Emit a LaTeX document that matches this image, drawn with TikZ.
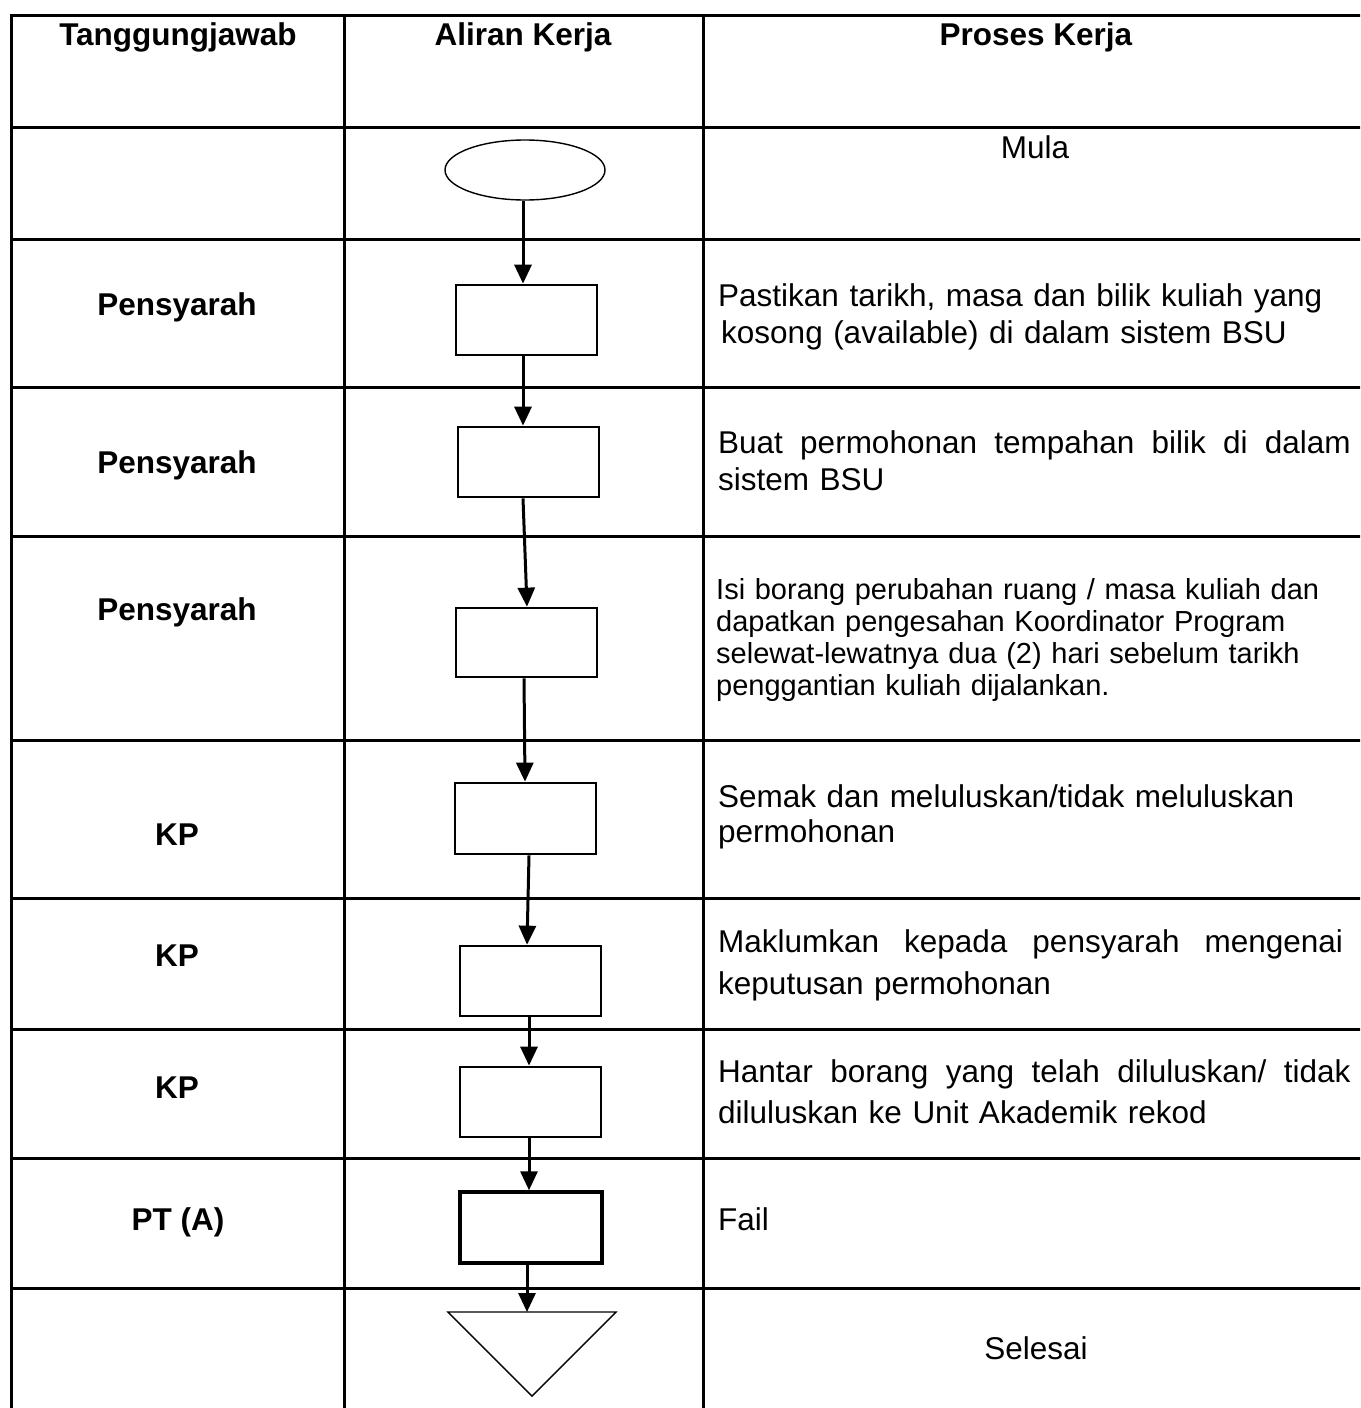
\documentclass[tikz,border=0pt]{standalone}
\usepackage{fontspec}
\setmainfont{Liberation Sans}
\usetikzlibrary{arrows.meta,shapes.geometric}
\newcommand\jline[1]{\makebox[641pt][l]{\spaceskip=0.278em plus 1fil\relax #1}}
\begin{document}
\begin{tikzpicture}[x=1pt,y=-1pt,
  tline/.style={line width=3pt},
  fbox/.style={draw,line width=2.7pt,minimum width=141pt,minimum height=70pt,inner sep=0pt},
  arr/.style={line width=3pt,-{Triangle[length=19pt,width=17pt]}},
  thin/.style={draw,line width=1.4pt},
  hdr/.style={font=\fontsize{31.5}{36}\selectfont\bfseries,anchor=base,inner sep=0pt},
  body/.style={anchor=base west,inner sep=0pt,text width=650pt,align=left},
  fs/.style={font=\fontsize{31.5}{#1}\selectfont},
]
\useasboundingbox (0,0) rectangle (1360,1408);
\clip (0,0) rectangle (1360,1408);
% table
\draw[tline,line join=miter] (1372,15) -- (11,15) -- (11,1420);
\draw[tline] (344,15) -- (344,1420);
\draw[tline] (703,15) -- (703,1420);
\foreach \y in {127,239,387,536,740,898,1029,1158,1288}
  \draw[tline] (11,\y) -- (1372,\y);
% headers
\node[hdr] (h1) at (178,45) {Tanggungjawab};
\node[hdr] (h2) at (523,45) {Aliran Kerja};
\node[hdr] (h3) at (1036,45) {Proses Kerja};
% responsibility column
\node[hdr] (r1) at (177,315) {Pensyarah};
\node[hdr] (r2) at (177,473) {Pensyarah};
\node[hdr] (r3) at (177,620) {Pensyarah};
\node[hdr] (r4) at (177,845) {KP};
\node[hdr] (r5) at (177,966) {KP};
\node[hdr] (r6) at (177,1098) {KP};
\node[hdr] (r7) at (178,1230) {PT (A)};
% flow shapes
\node[thin,ellipse,minimum width=160pt,minimum height=60pt,inner sep=0pt] (e0) at (525,170) {};
\node[fbox] (b1) at (526.5,320) {};
\node[fbox] (b2) at (528.5,462) {};
\node[fbox,minimum height=69pt] (b3) at (526.5,642.5) {};
\node[fbox,minimum height=71pt] (b4) at (525.5,818.5) {};
\node[fbox] (b5) at (530.5,981) {};
\node[fbox] (b6) at (530.5,1102) {};
\node[fbox,line width=3.4pt,minimum width=142pt,minimum height=71pt] (b7) at (531,1227.5) {};
\draw[thin] (448,1312) -- (616,1312) -- (532,1396) -- cycle;
\coordinate (tri) at (527,1312);
% arrows
\draw[arr] ([xshift=-2pt]e0.south) -- ([xshift=-3.5pt]b1.north);
\draw[arr] ([xshift=-3.5pt]b1.south) -- ([xshift=-5.5pt]b2.north);
\draw[arr] ([xshift=-5.5pt]b2.south) -- ([xshift=0.5pt]b3.north);
\draw[arr] ([xshift=-2.5pt]b3.south) -- ([xshift=-0.5pt]b4.north);
\draw[arr] ([xshift=3.5pt]b4.south) -- ([xshift=-3.5pt]b5.north);
\draw[arr] ([xshift=-1.5pt]b5.south) -- ([xshift=-1.5pt]b6.north);
\draw[arr] ([xshift=-1.5pt]b6.south) -- ([xshift=-2pt]b7.north);
\draw[arr] ([xshift=-4pt]b7.south) -- (tri);
% process texts
\node[fs=36,anchor=base,inner sep=0pt] (p0) at (1035,158) {Mula};
\node[body,fs=37] (p1) at (718,306) {Pastikan tarikh, masa dan bilik kuliah yang\\\hspace*{3pt}kosong (available) di dalam sistem BSU};
\node[body,fs=37] (p2) at (718,453) {\jline{Buat permohonan tempahan bilik di dalam}\\sistem BSU};
\node[body,font=\fontsize{29}{32}\selectfont] (p3) at (716,599) {Isi borang perubahan ruang / masa kuliah dan\\dapatkan pengesahan Koordinator Program\\selewat-lewatnya dua (2) hari sebelum tarikh\\penggantian kuliah dijalankan.};
\node[body,fs=35] (p4) at (718,807) {Semak dan meluluskan/tidak meluluskan\\permohonan};
\node[body,fs=42] (p5) at (718,952) {\jline{Maklumkan kepada pensyarah mengenai}\\keputusan permohonan};
\node[body,fs=41] (p6) at (718,1082) {\jline{Hantar borang yang telah diluluskan/ tidak}\\diluluskan ke Unit Akademik rekod};
\node[body,fs=36] (p7) at (718,1230) {Fail};
\node[fs=36,anchor=base,inner sep=0pt] (p8) at (1036,1359) {Selesai};
\end{tikzpicture}
\end{document}
